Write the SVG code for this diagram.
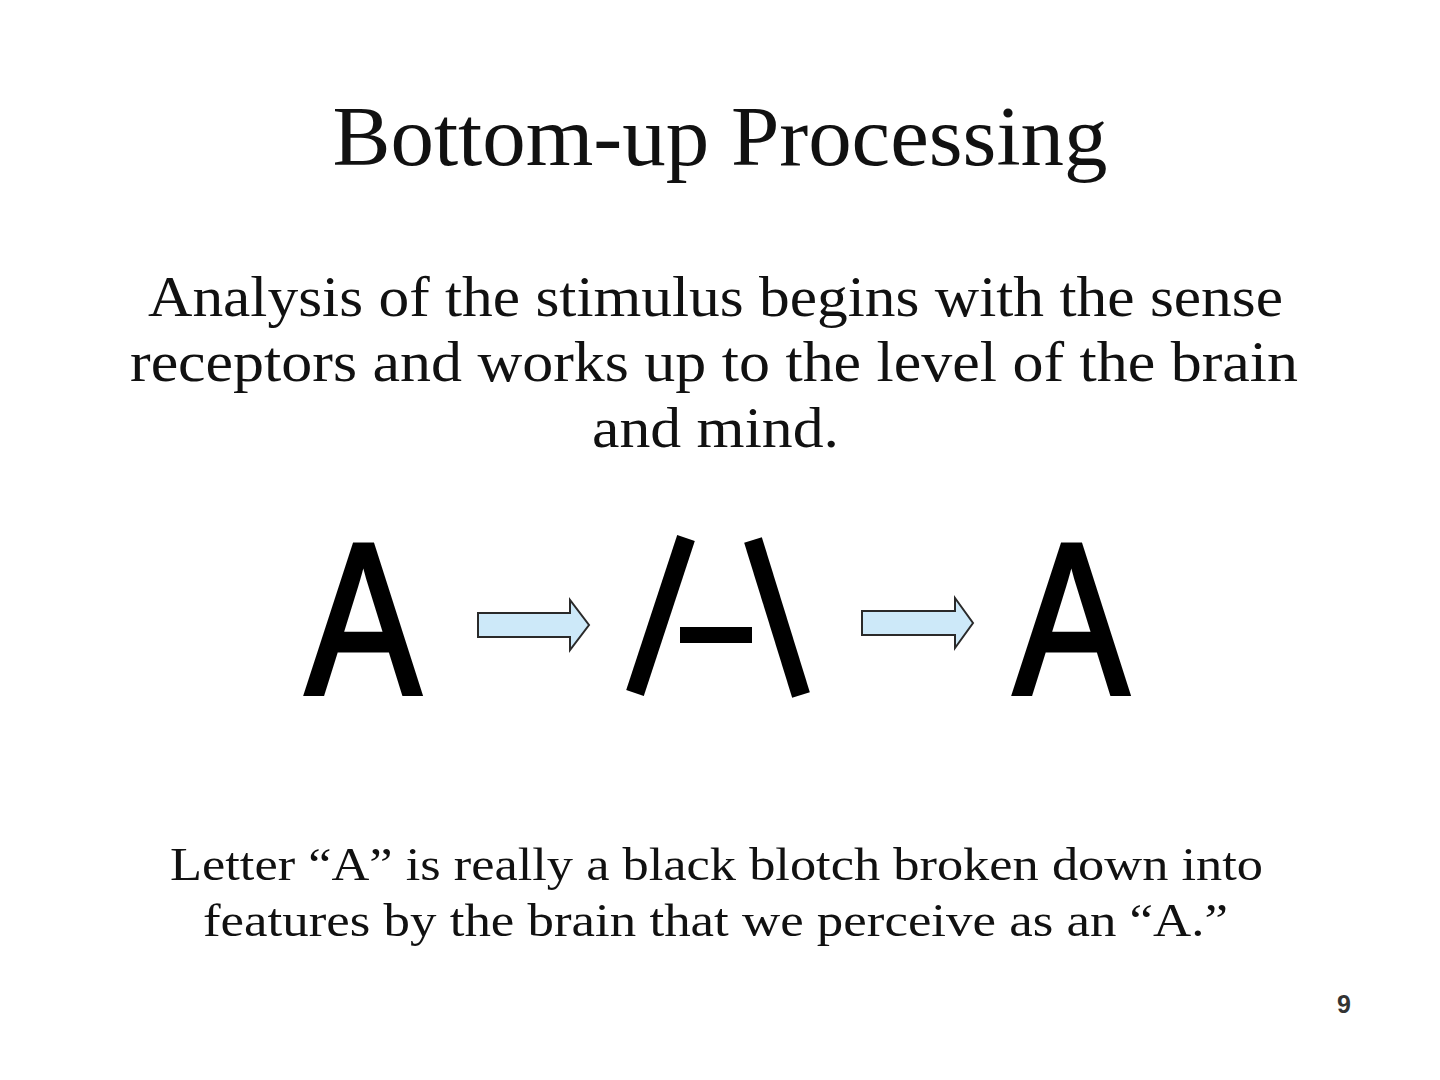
<svg xmlns="http://www.w3.org/2000/svg" width="1440" height="1080" viewBox="0 0 1440 1080">
  <style>
    .serif { font-family: "Liberation Serif", "DejaVu Serif", serif; fill: #111; text-anchor: middle; }
    .big { font-family: "Liberation Sans", Arial, sans-serif; font-size: 215px; fill: #000; stroke: #000; stroke-width: 5; stroke-linejoin: miter; text-anchor: middle; }
    .stroke { stroke: #000; stroke-width: 18.5; stroke-linecap: butt; fill: none; }
    .arrow { fill: #cde9f9; stroke: #2a2a2a; stroke-width: 2; stroke-linejoin: miter; }
  </style>
  <rect width="1440" height="1080" fill="#fff"/>
  <g id="title">
    <text class="serif" x="720" y="165" font-size="84" textLength="775" lengthAdjust="spacingAndGlyphs">Bottom-up Processing</text>
  </g>
  <g id="definition">
    <text class="serif" x="715.5" y="316" font-size="58" textLength="1135" lengthAdjust="spacingAndGlyphs">Analysis of the stimulus begins with the sense</text>
    <text class="serif" x="714" y="381" font-size="58" textLength="1168" lengthAdjust="spacingAndGlyphs">receptors and works up to the level of the brain</text>
    <text class="serif" x="715.5" y="447" font-size="58" textLength="247" lengthAdjust="spacingAndGlyphs">and mind.</text>
  </g>
  <g id="letter-a">
    <text class="big" transform="translate(363,693) scale(0.8,1)">A</text>
  </g>
  <g id="features">
    <line class="stroke" x1="686" y1="538" x2="635" y2="693"/>
    <line class="stroke" x1="753" y1="540" x2="801" y2="695"/>
    <rect x="680" y="627" width="72" height="16" fill="#000"/>
  </g>
  <g id="perceived-a">
    <text class="big" transform="translate(1071,693) scale(0.8,1)">A</text>
  </g>
  <g id="connectors">
    <path class="arrow" d="M478,613 H570 V600 L589,625 L570,650 V637 H478 Z"/>
    <path class="arrow" d="M862,611 H955 V598 L973,623 L955,648 V635 H862 Z"/>
  </g>
  <g id="caption">
    <text class="serif" x="716.5" y="880" font-size="47" textLength="1093" lengthAdjust="spacingAndGlyphs">Letter “A” is really a black blotch broken down into</text>
    <text class="serif" x="715.5" y="936" font-size="47" textLength="1025" lengthAdjust="spacingAndGlyphs">features by the brain that we perceive as an “A.”</text>
  </g>
  <g id="page-number">
    <text x="1344" y="1013" font-family="Liberation Sans, Arial, sans-serif" font-size="25" font-weight="bold" fill="#333" text-anchor="middle">9</text>
  </g>
</svg>
